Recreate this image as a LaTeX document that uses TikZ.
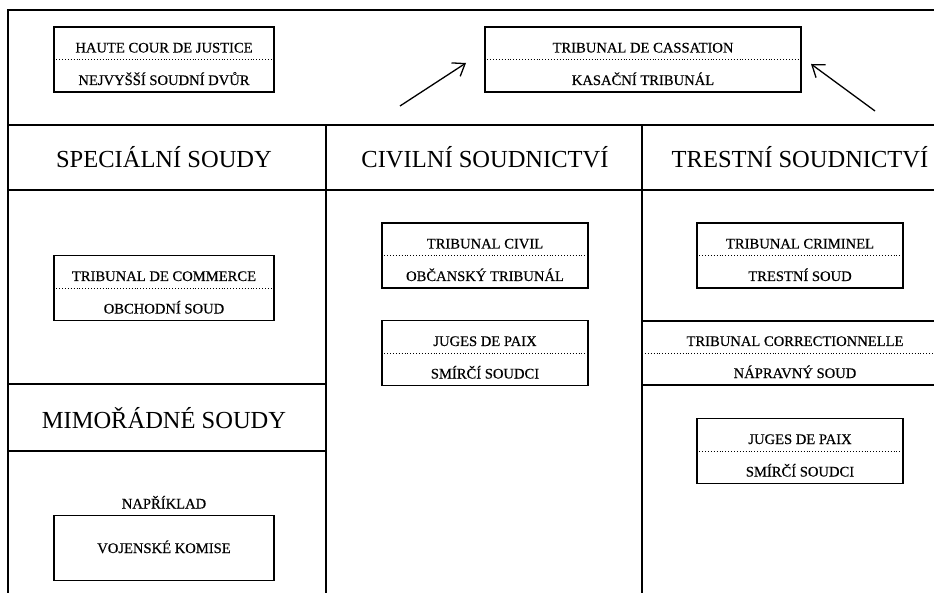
\documentclass[tikz,border=0pt]{standalone}
\usepackage{fontspec}
\setmainfont{Liberation Serif}
\newfontfamily\courtfont[FakeBold=0.4]{Liberation Serif}
\usetikzlibrary{arrows.meta}
\begin{document}
\begin{tikzpicture}[x=1pt,y=-1pt,
  frame/.style={line width=2.4pt},
  court/.style={draw, line width=1.4pt, minimum height=65pt, inner sep=0pt},
  wide/.style={minimum width=220pt},
  narrow/.style={minimum width=206pt},
  sep/.style={dotted, line width=0.9pt},
  small/.style={font=\courtfont\fontsize{14.6}{16}\selectfont, inner sep=0pt, anchor=base},
  head/.style={font=\fontsize{24.5}{28}\selectfont, inner sep=0pt, anchor=base},
  arr/.style={line width=1.3pt, -{Straight Barb[length=11pt,width=16pt,line width=1.3pt]}}
]
\useasboundingbox (0,0) rectangle (934,593);
\fill[white] (0,0) rectangle (934,593);
\clip (0,0) rectangle (934,593);

% outer frame and grid
\draw[frame] (960,10) -- (8,10) -- (8,610);
\draw[frame] (8,125) -- (960,125);
\draw[frame] (8,190) -- (960,190);
\draw[frame] (326,125) -- (326,610);
\draw[frame] (642,125) -- (642,610);
\draw[frame] (8,384) -- (326,384);
\draw[frame] (8,451) -- (326,451);
\draw[line width=1.4pt] (642,321) -- (960,321);
\draw[line width=1.4pt] (642,385) -- (960,385);
\draw[sep] (642,353) -- (960,353);

% headers
\node[head] (hspec) at (164,168) {SPECIÁLNÍ SOUDY};
\node[head] (hciv) at (485,168) {CIVILNÍ SOUDNICTVÍ};
\node[head] (htr) at (800,168) {TRESTNÍ SOUDNICTVÍ};
\node[head] (hmim) at (164,428) {MIMOŘÁDNÉ SOUDY};

% Haute cour
\node[court, wide] (haute) at (164,59.5) {};
\draw[sep] (haute.west) -- (haute.east);
\node[small] (haute1) at (164,52.5) {HAUTE COUR DE JUSTICE};
\node[small] (haute2) at (164,85) {NEJVYŠŠÍ SOUDNÍ DVŮR};

% Cassation
\node[court, minimum width=316pt] (cass) at (643,59.5) {};
\draw[sep] (cass.west) -- (cass.east);
\node[small] (cass1) at (643,52.5) {TRIBUNAL DE CASSATION};
\node[small] (cass2) at (643,85) {KASAČNÍ TRIBUNÁL};
\coordinate (la) at (400,106);
\coordinate (lb) at (466,63);
\coordinate (ra) at (875,111);
\coordinate (rb) at (811,64);
\draw[arr] (la) -- (lb);
\draw[arr] (ra) -- (rb);

% Commerce
\node[court, wide] (comm) at (164,288) {};
\draw[sep] (comm.west) -- (comm.east);
\node[small] (comm1) at (164,281) {TRIBUNAL DE COMMERCE};
\node[small] (comm2) at (164,313.5) {OBCHODNÍ SOUD};

% Civil
\node[court, narrow] (civ) at (485,255.5) {};
\draw[sep] (civ.west) -- (civ.east);
\node[small] (civ1) at (485,248.5) {TRIBUNAL CIVIL};
\node[small] (civ2) at (485,281) {OBČANSKÝ TRIBUNÁL};

\node[court, narrow] (jug1) at (485,353) {};
\draw[sep] (jug1.west) -- (jug1.east);
\node[small] (jug1a) at (485,346) {JUGES DE PAIX};
\node[small] (jug1b) at (485,378.5) {SMÍRČÍ SOUDCI};

% Criminal
\node[court, narrow] (crim) at (800,255.5) {};
\draw[sep] (crim.west) -- (crim.east);
\node[small] (crim1) at (800,248.5) {TRIBUNAL CRIMINEL};
\node[small] (crim2) at (800,281) {TRESTNÍ SOUD};

\node[small] (corr1) at (795,346) {TRIBUNAL CORRECTIONNELLE};
\node[small] (corr2) at (795,378) {NÁPRAVNÝ SOUD};

\node[court, narrow] (jug2) at (800,451) {};
\draw[sep] (jug2.west) -- (jug2.east);
\node[small] (jug2a) at (800,444) {JUGES DE PAIX};
\node[small] (jug2b) at (800,476.5) {SMÍRČÍ SOUDCI};

% Extraordinary
\node[small] (napr) at (164,508.5) {NAPŘÍKLAD};
\node[court, wide] (voj) at (164,548) {};
\node[small] (voj1) at (164,553) {VOJENSKÉ KOMISE};
\end{tikzpicture}
\end{document}
